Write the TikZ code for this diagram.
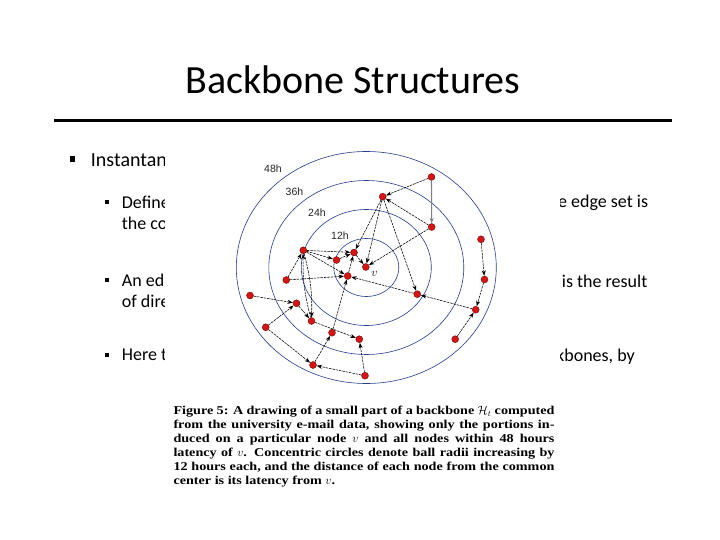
\documentclass[tikz,border=0pt]{standalone}
\usepackage{fontspec}
\setmainfont{Carlito}
\newfontfamily\capfont{Liberation Serif}[FakeStretch=1.18]
\newfontfamily\arialfont{Liberation Sans}
\usetikzlibrary{arrows.meta}
\definecolor{ringblue}{RGB}{40,60,140}
\definecolor{dotred}{RGB}{215,20,20}
\begin{document}
\begin{tikzpicture}[x=1pt,y=-1pt,
  gnode/.style={circle,fill=dotred,draw=red!35!black,line width=0.3pt,minimum size=7pt,inner sep=0pt},
  edge/.style={draw=black,line width=0.55pt,dash pattern=on 2.5pt off 0.9pt,-{Stealth[length=5.5pt,width=4pt]}},
  ring/.style={draw=ringblue,line width=0.6pt},
  ringlabel/.style={font=\arialfont\fontsize{10.5}{12}\selectfont,inner sep=0pt,text=black!85},
  bulA/.style={rectangle,fill=black,minimum size=5.5pt,inner sep=0pt},
  bulB/.style={rectangle,fill=black,minimum size=4pt,inner sep=0pt},
  lvA/.style={anchor=base west,inner sep=0pt,font=\fontsize{20}{24}\selectfont},
  lvB/.style={anchor=base west,inner sep=0pt,font=\fontsize{18}{21.6}\selectfont},
  lvR/.style={anchor=base east,inner sep=0pt,font=\fontsize{18}{21.6}\selectfont},
]
\useasboundingbox (0,0) rectangle (720,540);
\fill[white] (0,0) rectangle (720,540);

% title
\node[anchor=base,inner sep=0pt,font=\fontsize{40}{48}\selectfont] (title) at (352.8,93.3) {Backbone Structures};
\coordinate (r1) at (54,120.3);
\coordinate (r2) at (671.5,120.3);
\draw[line width=3pt] (r1) -- (r2);

% bullets and text
\node[bulA] (ba) at (72.7,159) {};
\node[lvA] (ta) at (90.7,166.7) {Instantan};
\node[bulB] (bb1) at (106.7,201.7) {};
\node[lvB] (tb1) at (121.7,208.3) {Define};
\node[lvB] (tb1b) at (121.7,229.3) {the com};
\node[bulB] (bb2) at (106.7,280) {};
\node[lvB] (tb2) at (121.7,286.7) {An edge};
\node[lvB] (tb2b) at (121.7,307) {of dire};
\node[bulB] (bb3) at (106.7,354.5) {};
\node[lvB] (tb3) at (121.7,360.7) {Here the};
\node[lvR] (tr1) at (648.3,207.3) {the edge set is};
\node[lvR] (tr2) at (647.5,287) {is the result};
\node[lvR] (tr3) at (635,361.3) {kbones, by};

% figure
\fill[white] (165,143) rectangle (559.5,510);
\coordinate (c) at (366.3,267.5);
\draw[ring] (c) ellipse [x radius=32.5, y radius=29];
\draw[ring] (c) ellipse [x radius=65, y radius=58];
\draw[ring] (c) ellipse [x radius=97.5, y radius=87];
\draw[ring] (c) ellipse [x radius=130, y radius=116];
\node[ringlabel] (l48) at (273,168.5) {48h};
\node[ringlabel] (l36) at (294.5,191.5) {36h};
\node[ringlabel] (l24) at (317,212.5) {24h};
\node[ringlabel] (l12) at (340,236) {12h};

\node[gnode] (n1) at (431.5,177) {};
\node[gnode] (n2) at (382.7,196.7) {};
\node[gnode] (n3) at (431.7,227) {};
\node[gnode] (n4) at (481,239.3) {};
\node[gnode] (n5) at (303.3,250.3) {};
\node[gnode] (n6) at (354,252.5) {};
\node[gnode] (n7) at (336.5,260) {};
\node[gnode] (nv) at (365.8,267) {};
\node[inner sep=0pt,font=\fontsize{11.5}{12}\selectfont] (vlab) at (374.5,273.5) {$v$};
\node[gnode] (n9) at (347.7,276) {};
\node[gnode] (n10) at (286.3,280) {};
\node[gnode] (n11) at (484.5,279.5) {};
\node[gnode] (n12) at (417.3,294.2) {};
\node[gnode] (n13) at (250,295.5) {};
\node[gnode] (n14) at (296.5,303.3) {};
\node[gnode] (n15) at (475.7,309.7) {};
\node[gnode] (n16) at (311.5,321) {};
\node[gnode] (n17) at (265.7,327.3) {};
\node[gnode] (n18) at (332,332.7) {};
\node[gnode] (n19) at (359.3,339.2) {};
\node[gnode] (n20) at (455.2,339.2) {};
\node[gnode] (n21) at (313,365) {};
\node[gnode] (n22) at (365,375.7) {};

\draw[draw=black!50,line width=1.1pt,-{Stealth[length=5.5pt,width=4pt]}] (n1) -- (n3);
\foreach \a/\b in {n1/n2,n3/n2,n3/nv,n2/n6,n2/nv,n2/n12,n5/n6,n5/n7,n5/n9,n7/n6,n6/nv,n9/n6,
  n10/n5,n10/n9,n12/n9,n15/n12,n4/n11,n11/n15,n20/n15,n13/n14,n17/n14,n14/n16,n16/n19,
  n18/n9,n21/n18,n17/n21,n22/n21,n22/n19}
  \draw[edge] (\a) -- (\b);
\draw[edge] (n5) to[bend left=8] (n16);
\draw[edge] (n16) to[bend left=8] (n5);

% caption
\node[anchor=north west,inner sep=0pt,text width=381pt,align=justify,
  font=\capfont\bfseries\fontsize{12}{13.9}\selectfont] (cap) at (173.3,406.3)
{Figure 5: A drawing of a small part of a backbone $\mathcal{H}_t$ computed\linebreak
from the university e-mail data, showing only the portions in-\linebreak
duced on a particular node $v$ and all nodes within 48 hours\linebreak
latency of $v$. Concentric circles denote ball radii increasing by\linebreak
12 hours each, and the distance of each node from the common\linebreak
center is its latency from $v$.};
\end{tikzpicture}
\end{document}
